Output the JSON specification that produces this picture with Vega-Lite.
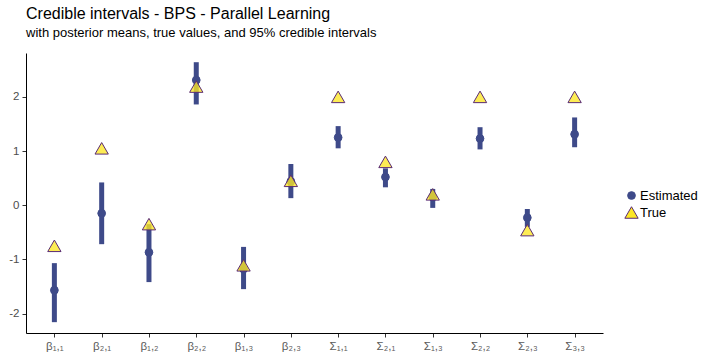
{
  "$schema": "https://vega.github.io/schema/vega-lite/v6.json",
  "width": 577,
  "height": 280,
  "padding": {"left": 8, "top": 6, "right": 0, "bottom": 0},
  "background": "white",
  "title": {
    "text": "Credible intervals - BPS - Parallel Learning",
    "subtitle": "with posterior means, true values, and 95% credible intervals",
    "anchor": "start",
    "frame": "group",
    "font": "Liberation Sans",
    "fontSize": 16,
    "fontWeight": "normal",
    "color": "#000000",
    "subtitleFont": "Liberation Sans",
    "subtitleFontSize": 13,
    "subtitleColor": "#000000",
    "subtitlePadding": 5,
    "offset": 13
  },
  "datasets": {
    "intervals": [
      {"param": "β₁,₁", "lo": -2.16, "hi": -1.07},
      {"param": "β₂,₁", "lo": -0.72, "hi": 0.42},
      {"param": "β₁,₂", "lo": -1.42, "hi": -0.35},
      {"param": "β₂,₂", "lo": 1.86, "hi": 2.64},
      {"param": "β₁,₃", "lo": -1.55, "hi": -0.77},
      {"param": "β₂,₃", "lo": 0.13, "hi": 0.76},
      {"param": "Σ₁,₁", "lo": 1.05, "hi": 1.46},
      {"param": "Σ₂,₁", "lo": 0.33, "hi": 0.68},
      {"param": "Σ₁,₃", "lo": -0.05, "hi": 0.3},
      {"param": "Σ₂,₂", "lo": 1.03, "hi": 1.44},
      {"param": "Σ₂,₃", "lo": -0.4, "hi": -0.07},
      {"param": "Σ₃,₃", "lo": 1.07, "hi": 1.62}
    ],
    "points": [
      {"param": "β₁,₁", "kind": "Estimated", "value": -1.57},
      {"param": "β₁,₁", "kind": "True", "value": -0.75},
      {"param": "β₂,₁", "kind": "Estimated", "value": -0.15},
      {"param": "β₂,₁", "kind": "True", "value": 1.05},
      {"param": "β₁,₂", "kind": "Estimated", "value": -0.87},
      {"param": "β₁,₂", "kind": "True", "value": -0.35},
      {"param": "β₂,₂", "kind": "Estimated", "value": 2.31},
      {"param": "β₂,₂", "kind": "True", "value": 2.19},
      {"param": "β₁,₃", "kind": "Estimated", "value": -1.18},
      {"param": "β₁,₃", "kind": "True", "value": -1.11},
      {"param": "β₂,₃", "kind": "Estimated", "value": 0.44},
      {"param": "β₂,₃", "kind": "True", "value": 0.45},
      {"param": "Σ₁,₁", "kind": "Estimated", "value": 1.25},
      {"param": "Σ₁,₁", "kind": "True", "value": 2.0},
      {"param": "Σ₂,₁", "kind": "Estimated", "value": 0.52},
      {"param": "Σ₂,₁", "kind": "True", "value": 0.8},
      {"param": "Σ₁,₃", "kind": "Estimated", "value": 0.15},
      {"param": "Σ₁,₃", "kind": "True", "value": 0.2},
      {"param": "Σ₂,₂", "kind": "Estimated", "value": 1.23},
      {"param": "Σ₂,₂", "kind": "True", "value": 2.0},
      {"param": "Σ₂,₃", "kind": "Estimated", "value": -0.23},
      {"param": "Σ₂,₃", "kind": "True", "value": -0.46},
      {"param": "Σ₃,₃", "kind": "Estimated", "value": 1.31},
      {"param": "Σ₃,₃", "kind": "True", "value": 2.0}
    ]
  },
  "encoding": {
    "x": {
      "field": "param",
      "type": "nominal",
      "sort": null,
      "scale": {"type": "point", "padding": 0.6},
      "axis": {
        "title": null,
        "labelAngle": 0,
        "labelFont": "Liberation Sans",
        "labelFontSize": 11.5,
        "labelColor": "#5A5A5A",
        "labelPadding": 3,
        "tickSize": 4,
        "tickColor": "#333333",
        "domainColor": "#000000",
        "grid": false
      }
    }
  },
  "layer": [
    {
      "data": {"name": "intervals"},
      "mark": {"type": "rule", "strokeWidth": 5, "color": "#3E4A89", "strokeCap": "butt", "opacity": 1},
      "encoding": {
        "y": {
          "field": "lo",
          "type": "quantitative",
          "scale": {"domain": [-2.36, 2.81], "nice": false, "zero": false},
          "axis": {
            "title": null,
            "values": [-2, -1, 0, 1, 2],
            "labelExpr": "replace(datum.label, '−', '-')",
            "labelFont": "Liberation Sans",
            "labelFontSize": 11.5,
            "labelColor": "#4D4D4D",
            "labelPadding": 3,
            "tickSize": 4,
            "tickColor": "#333333",
            "domainColor": "#000000",
            "grid": false
          }
        },
        "y2": {"field": "hi"}
      }
    },
    {
      "data": {"name": "points"},
      "mark": {"type": "point", "filled": false, "strokeWidth": 1, "opacity": 1},
      "encoding": {
        "y": {"field": "value", "type": "quantitative"},
        "shape": {
          "field": "kind",
          "type": "nominal",
          "scale": {"domain": ["Estimated", "True"], "range": ["circle", "triangle-up"]},
          "legend": {
            "title": null,
            "orient": "none",
            "legendX": 598,
            "legendY": 136,
            "labelFont": "Liberation Sans",
            "labelFontSize": 13,
            "labelColor": "#000000",
            "labelOffset": 1,
            "rowPadding": 1,
            "symbolStrokeWidth": 1,
            "symbolOpacity": 1
          }
        },
        "fill": {
          "field": "kind",
          "type": "nominal",
          "scale": {"domain": ["Estimated", "True"], "range": ["#3E4A89", "#FDE725"]}
        },
        "stroke": {
          "field": "kind",
          "type": "nominal",
          "scale": {"domain": ["Estimated", "True"], "range": ["#3E4A89", "#5A2B74"]}
        },
        "fillOpacity": {
          "field": "kind",
          "type": "nominal",
          "scale": {"domain": ["Estimated", "True"], "range": [1, 0.78]}
        },
        "size": {
          "field": "kind",
          "type": "nominal",
          "scale": {"domain": ["Estimated", "True"], "range": [60, 177]}
        }
      }
    }
  ],
  "config": {
    "view": {"stroke": null},
    "axis": {"domainWidth": 1, "tickWidth": 1}
  }
}
